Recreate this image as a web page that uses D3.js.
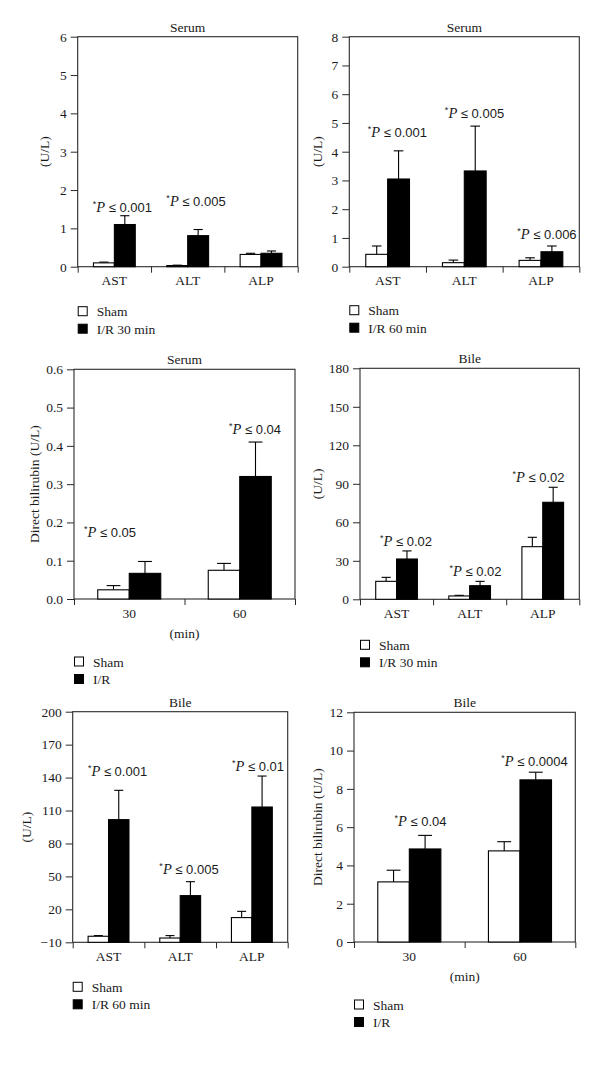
<!DOCTYPE html>
<html><head><meta charset="utf-8">
<script src="https://cdn.jsdelivr.net/npm/d3@7"></script>
<style>body{margin:0;background:#fff} svg{display:block}</style>
</head><body>
<svg id="c" width="600" height="1067"></svg>
<script>
// ---------- DATA ----------
const enzymeCategories = ["AST", "ALT", "ALP"];
const timeCategories = ["30", "60"];

// Panel 1: Serum, I/R 30 min
const p1Sham = [0.10, 0.03, 0.32];
const p1ShamErr = [0.02, 0.01, 0.03];
const p1IR = [1.10, 0.81, 0.35];
const p1IRErr = [0.23, 0.16, 0.06];
const p1Ticks = [0, 1, 2, 3, 4, 5, 6];
const p1Notes = [{cat: "AST", p: "0.001", at: 1.43}, {cat: "ALT", p: "0.005", at: 1.58}];
const p1Legend = ["Sham", "I/R 30 min"];

// Panel 2: Serum, I/R 60 min
const p2Sham = [0.43, 0.14, 0.22];
const p2ShamErr = [0.29, 0.09, 0.09];
const p2IR = [3.05, 3.33, 0.52];
const p2IRErr = [0.98, 1.56, 0.20];
const p2Ticks = [0, 1, 2, 3, 4, 5, 6, 7, 8];
const p2Notes = [{cat: "AST", p: "0.001", at: 4.51}, {cat: "ALT", p: "0.005", at: 5.17}, {cat: "ALP", p: "0.006", at: 0.96}];
const p2Legend = ["Sham", "I/R 60 min"];

// Panel 3: Serum direct bilirubin
const p3Sham = [0.024, 0.075];
const p3ShamErr = [0.011, 0.018];
const p3IR = [0.067, 0.32];
const p3IRErr = [0.031, 0.09];
const p3Ticks = [0, 0.1, 0.2, 0.3, 0.4, 0.5, 0.6];
const p3Notes = [{cat: "30", p: "0.05", at: 0.162}, {cat: "60", p: "0.04", at: 0.431}];
const p3Legend = ["Sham", "I/R"];

// Panel 4: Bile, I/R 30 min
const p4Sham = [14.0, 2.6, 41.0];
const p4ShamErr = [3.1, 0.5, 7.3];
const p4IR = [31.4, 10.6, 75.6];
const p4IRErr = [6.3, 3.4, 11.7];
const p4Ticks = [0, 30, 60, 90, 120, 150, 180];
const p4Notes = [{cat: "AST", p: "0.02", at: 41.5}, {cat: "ALT", p: "0.02", at: 18.2}, {cat: "ALP", p: "0.02", at: 91.4}];
const p4Legend = ["Sham", "I/R 30 min"];

// Panel 5: Bile, I/R 60 min
const p5Sham = [-4.5, -6.1, 12.5];
const p5ShamErr = [0.6, 2.2, 5.7];
const p5IR = [101.7, 32.5, 113.2];
const p5IRErr = [26.7, 12.7, 28.2];
const p5Ticks = [-10, 20, 50, 80, 110, 140, 170, 200];
const p5Notes = [{cat: "AST", p: "0.001", at: 141.7}, {cat: "ALT", p: "0.005", at: 52.2}, {cat: "ALP", p: "0.01", at: 146}];
const p5Legend = ["Sham", "I/R 60 min"];

// Panel 6: Bile direct bilirubin
const p6Sham = [3.14, 4.76];
const p6ShamErr = [0.61, 0.48];
const p6IR = [4.86, 8.47];
const p6IRErr = [0.71, 0.40];
const p6Ticks = [0, 2, 4, 6, 8, 10, 12];
const p6Notes = [{cat: "30", p: "0.04", at: 6.06}, {cat: "60", p: "0.0004", at: 9.2}];
const p6Legend = ["Sham", "I/R"];

// ---------- LAYOUT ----------
const panels = [
  {cats: enzymeCategories, sham: p1Sham, shamErr: p1ShamErr, ir: p1IR, irErr: p1IRErr, ticks: p1Ticks, fmt: d3.format("d"),
   notes: p1Notes, legend: p1Legend, title: "Serum", ylabel: "(U/L)",
   left: 77.7, right: 297.7, top: 36.7, bottom: 266.7, ylOff: -33, legOff: 40, noteDx: [8, 8.3]},
  {cats: enzymeCategories, sham: p2Sham, shamErr: p2ShamErr, ir: p2IR, irErr: p2IRErr, ticks: p2Ticks, fmt: d3.format("d"),
   notes: p2Notes, legend: p2Legend, title: "Serum", ylabel: "(U/L)",
   left: 349.3, right: 579.3, top: 36.7, bottom: 266.7, ylOff: -32, legOff: 39, noteDx: [9.8, 10.2, 6]},
  {cats: timeCategories, sham: p3Sham, shamErr: p3ShamErr, ir: p3IR, irErr: p3IRErr, ticks: p3Ticks, fmt: d3.format(".1f"),
   notes: p3Notes, legend: p3Legend, title: "Serum", ylabel: "Direct bilirubin (U/L)", xTitle: "(min)",
   left: 74, right: 295, top: 369.3, bottom: 599, ylOff: -40, legOff: 58, noteDx: [-19.3, 15.2]},
  {cats: enzymeCategories, sham: p4Sham, shamErr: p4ShamErr, ir: p4IR, irErr: p4IRErr, ticks: p4Ticks, fmt: d3.format("d"),
   notes: p4Notes, legend: p4Legend, title: "Bile", ylabel: "(U/L)",
   left: 360, right: 579.3, top: 368.3, bottom: 599.3, ylOff: -43, legOff: 41, noteDx: [9.4, 5.8, -4.3]},
  {cats: enzymeCategories, sham: p5Sham, shamErr: p5ShamErr, ir: p5IR, irErr: p5IRErr, ticks: p5Ticks, fmt: d3.format("d"),
   notes: p5Notes, legend: p5Legend, title: "Bile", ylabel: "(U/L)",
   left: 72.7, right: 287.7, top: 711.7, bottom: 942.3, ylOff: -46, legOff: 40, noteDx: [9, 8.8, 6.2]},
  {cats: timeCategories, sham: p6Sham, shamErr: p6ShamErr, ir: p6IR, irErr: p6IRErr, ticks: p6Ticks, fmt: d3.format("d"),
   notes: p6Notes, legend: p6Legend, title: "Bile", ylabel: "Direct bilirubin (U/L)", xTitle: "(min)",
   left: 354, right: 575.3, top: 712.3, bottom: 942, ylOff: -37, legOff: 58, noteDx: [11.2, 14.5]}
];

const SERIF = "'Liberation Serif', 'Times New Roman', serif";
const SANS = "'Liberation Sans', Arial, sans-serif";
const FS = 13.5;
const INK = "#1a1a1a";
const LINE = "#2a2a2a";

const svg = d3.select("#c");

function drawPanel(c) {
  const g = svg.append("g");
  const dom = [c.ticks[0], c.ticks[c.ticks.length - 1]];
  const x = d3.scaleBand().domain(c.cats).range([c.left, c.right]);
  const xs = d3.scaleBand().domain(["sham", "ir"]).range([0, x.bandwidth()]).paddingInner(0).paddingOuter(0.754);
  const y = d3.scaleLinear().domain(dom).range([c.bottom, c.top]);
  const xb = d3.scaleLinear().domain([0, c.cats.length]).range([c.left, c.right]);

  // frame
  g.append("rect").attr("x", c.left).attr("y", c.top)
    .attr("width", c.right - c.left).attr("height", c.bottom - c.top)
    .attr("fill", "none").attr("stroke", LINE).attr("stroke-width", 1.1);

  // y axis
  const ya = g.append("g").attr("transform", `translate(${c.left},0)`)
    .call(d3.axisLeft(y).tickValues(c.ticks).tickFormat(c.fmt).tickSize(7).tickPadding(4));
  ya.select(".domain").remove();
  ya.selectAll("line").attr("stroke", LINE);
  ya.selectAll("text").attr("font-family", SERIF).attr("font-size", FS).attr("fill", INK);

  // x boundary ticks
  const xt = g.append("g").attr("transform", `translate(0,${c.bottom})`)
    .call(d3.axisBottom(xb).tickValues(d3.range(c.cats.length + 1)).tickFormat("").tickSize(6));
  xt.select(".domain").remove();
  xt.selectAll("line").attr("stroke", LINE);

  // x category labels
  const xl = g.append("g").attr("transform", `translate(0,${c.bottom})`)
    .call(d3.axisBottom(x).tickSize(0).tickPadding(9));
  xl.select(".domain").remove();
  xl.selectAll("text").attr("font-family", SERIF).attr("font-size", FS).attr("fill", INK);

  // bars
  const series = [
    {key: "sham", vals: c.sham, errs: c.shamErr, fill: "#fff"},
    {key: "ir", vals: c.ir, errs: c.irErr, fill: "#000"}
  ];
  const bw = xs.bandwidth();
  series.forEach(s => {
    const rows = c.cats.map((cat, i) => ({cat, v: s.vals[i], e: s.errs[i]}));
    const eg = g.append("g").attr("stroke", "#000").attr("stroke-width", 1.1);
    eg.selectAll("line.v").data(rows).join("line").attr("class", "v")
      .attr("x1", d => x(d.cat) + xs(s.key) + bw / 2).attr("x2", d => x(d.cat) + xs(s.key) + bw / 2)
      .attr("y1", d => y(d.v)).attr("y2", d => y(d.v + d.e));
    eg.selectAll("line.c").data(rows).join("line").attr("class", "c")
      .attr("x1", d => x(d.cat) + xs(s.key) + bw / 2 - bw * 0.22).attr("x2", d => x(d.cat) + xs(s.key) + bw / 2 + bw * 0.22)
      .attr("y1", d => y(d.v + d.e)).attr("y2", d => y(d.v + d.e));
    g.append("g").selectAll("rect").data(rows).join("rect")
      .attr("x", d => x(d.cat) + xs(s.key))
      .attr("y", d => y(d.v))
      .attr("width", bw)
      .attr("height", d => y(dom[0]) - y(d.v))
      .attr("fill", s.fill).attr("stroke", "#000").attr("stroke-width", 1.1);
  });

  // title
  g.append("text").attr("x", (c.left + c.right) / 2).attr("y", c.top - 5)
    .attr("text-anchor", "middle").attr("font-family", SERIF).attr("font-size", FS).attr("fill", INK)
    .text(c.title);

  // y label
  g.append("text")
    .attr("transform", `translate(${c.left + c.ylOff},${(c.top + c.bottom) / 2}) rotate(-90)`)
    .attr("text-anchor", "middle").attr("dominant-baseline", "central")
    .attr("font-family", SERIF).attr("font-size", FS).attr("fill", INK)
    .text(c.ylabel);

  // x title
  if (c.xTitle) {
    g.append("text").attr("x", (c.left + c.right) / 2).attr("y", c.bottom + 39)
      .attr("text-anchor", "middle").attr("font-family", SERIF).attr("font-size", FS).attr("fill", INK)
      .text(c.xTitle);
  }

  // significance notes
  c.notes.forEach((n, i) => {
    const t = g.append("text")
      .attr("x", x(n.cat) + x.bandwidth() / 2 + c.noteDx[i])
      .attr("y", y(n.at))
      .attr("text-anchor", "middle").attr("font-family", SANS).attr("font-size", 13).attr("fill", INK);
    t.append("tspan").attr("font-size", 9).attr("dy", -5).text("*");
    t.append("tspan").attr("dy", 5).attr("font-family", SERIF).attr("font-style", "italic").attr("font-size", 14.5).text("P");
    t.append("tspan").text(" \u2264 " + n.p);
  });

  // legend
  const lg = g.append("g");
  c.legend.forEach((name, i) => {
    const yy = c.bottom + c.legOff + i * 17.5;
    lg.append("rect").attr("x", c.left + 0.5).attr("y", yy).attr("width", 9).attr("height", 9)
      .attr("fill", i === 0 ? "#fff" : "#000").attr("stroke", "#000").attr("stroke-width", 1);
    lg.append("text").attr("x", c.left + 19).attr("y", yy + 9.5)
      .attr("font-family", SERIF).attr("font-size", FS).attr("fill", INK).text(name);
  });
}

panels.forEach(drawPanel);
</script>
</body></html>
